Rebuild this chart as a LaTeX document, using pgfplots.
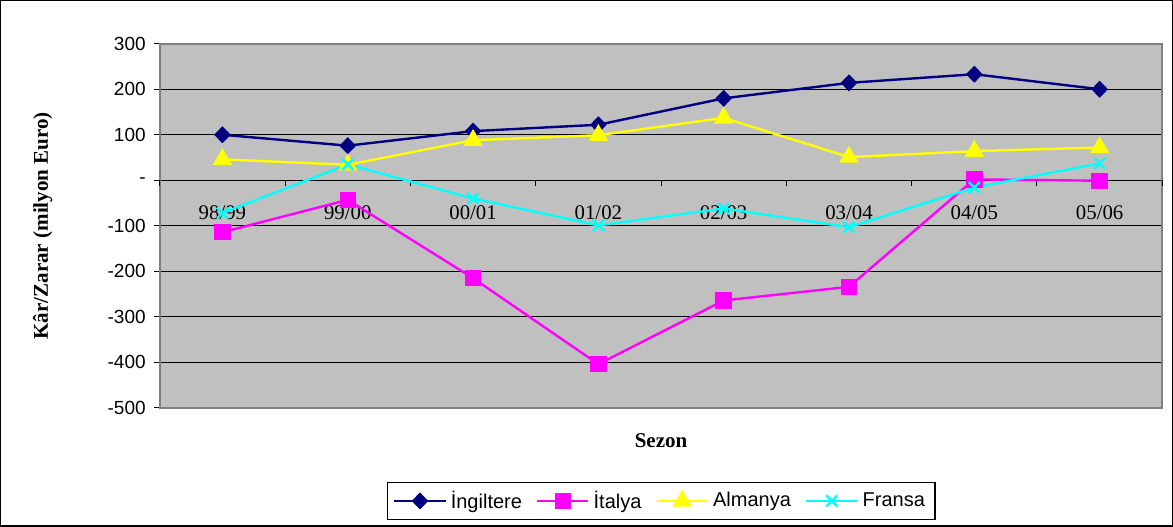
\documentclass[border=0pt]{standalone}
\usepackage{fontspec}
\setmainfont{Liberation Serif}
\newfontfamily\arial{Liberation Sans}
\usepackage{pgfplots}
\pgfplotsset{compat=1.18}
\definecolor{bgray}{RGB}{192,192,192}
\definecolor{navyc}{RGB}{0,0,128}
\definecolor{magc}{RGB}{255,0,255}
\definecolor{yelc}{RGB}{255,255,0}
\definecolor{cyac}{RGB}{0,255,255}
\definecolor{bordgray}{RGB}{128,128,128}
\begin{document}
\begin{tikzpicture}
\begin{axis}[
  name=ax,
  scale only axis,
  width=501pt, height=182pt,
  xmin=-0.5, xmax=7.5,
  ymin=-500, ymax=300,
  axis background/.style={fill=bgray},
  axis line style={draw=bordgray, line width=1pt},
  ytick={-500,-400,-300,-200,-100,0,100,200,300},
  yticklabels={-500,-400,-300,-200,-100,-,100,200,300},
  yticklabel style={font=\arial\fontsize{9.5}{10}\selectfont, xshift=-0.5pt},
  ytick pos=left,
  tick align=outside,
  major tick length=3pt,
  ytick style={black, line width=0.5pt},
  ymajorgrids,
  grid style={black, line width=0.5pt},
  xtick={0,1,2,3,4,5,6,7},
  xticklabels={98/99,99/00,00/01,01/02,02/03,03/04,04/05,05/06},
  xtick style={draw=none},
  xticklabel style={anchor=center, yshift=100.5pt, font=\fontsize{10.4}{12}\selectfont},
  ylabel={Kâr/Zarar (milyon Euro)},
  ylabel style={at={(axis description cs:-0.1168,0.5)}, anchor=center, font=\bfseries\fontsize{10.5}{12}\selectfont},
  xlabel={Sezon},
  xlabel style={at={(axis description cs:0.5,-0.0907)}, anchor=center, font=\bfseries\fontsize{10.5}{12}\selectfont},
  legend columns=4,
  legend style={at={(0.5,-0.2555)}, anchor=center, draw=black, line width=0.6pt,
    font=\arial\fontsize{10}{12}\selectfont, inner xsep=3pt, inner ysep=2pt,
    /tikz/every even column/.append style={column sep=5pt}},
  legend image code/.code={\draw[mark repeat=2,mark phase=2] plot coordinates {(0cm,0cm) (0.45cm,0cm) (0.9cm,0cm)};},
  clip=false,
]
\pgfplotsinvokeforeach{-0.5,0.5,1.5,2.5,3.5,4.5,5.5,6.5,7.5}{
  \draw[black, line width=0.5pt] (axis cs:#1,0) -- ++(0pt,-3pt);
}
\addplot[navyc, line width=1.2pt, mark=diamond*, mark size=3.4pt, mark options={solid, fill=navyc, xscale=1.3}]
  coordinates {(0,100) (1,76) (2,108) (3,122) (4,180) (5,214) (6,233) (7,200)};
\addlegendentry{İngiltere}
\addplot[magc, line width=1.2pt, mark=square*, mark size=3.5pt, mark options={solid, fill=magc}]
  coordinates {(0,-114) (1,-43) (2,-215) (3,-404) (4,-264) (5,-234) (6,2) (7,-1)};
\addlegendentry{İtalya}
\addplot[yelc, line width=1.2pt, mark=triangle*, mark size=4.4pt, mark options={solid, fill=yelc}]
  coordinates {(0,46) (1,34) (2,88) (3,99) (4,137) (5,51) (6,64) (7,72)};
\addlegendentry{Almanya}
\addplot[cyac, line width=1.2pt, mark=x, mark size=3.9pt, mark options={solid}]
  coordinates {(0,-72) (1,35) (2,-40) (3,-99) (4,-62) (5,-103) (6,-16) (7,37)};
\addlegendentry{Fransa}
\end{axis}
\draw[black, line width=0.7pt] ([xshift=-79.5pt, yshift=-59pt]ax.south west) rectangle ([xshift=5pt, yshift=21.5pt]ax.north east);
\end{tikzpicture}
\end{document}
